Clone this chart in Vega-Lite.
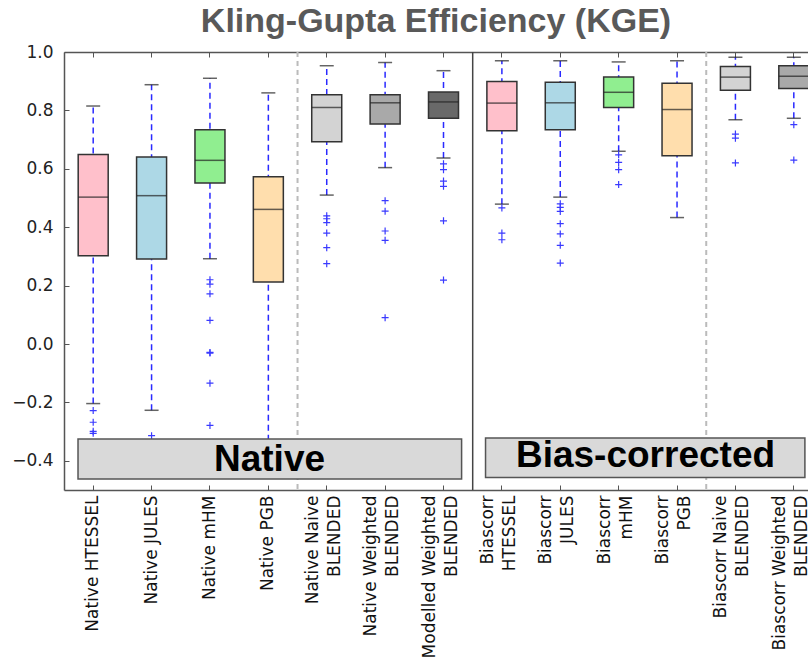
{
  "$schema": "https://vega.github.io/schema/vega-lite/v6.json",
  "autosize": {"type": "none"},
  "padding": {"left": 64, "top": 52, "right": 0, "bottom": 170},
  "width": 744,
  "height": 438,
  "title": {"text": "Kling-Gupta Efficiency (KGE)", "font": "Liberation Sans", "fontSize": 34, "fontWeight": "bold", "color": "#595959", "offset": 4, "anchor": "middle"},
  "config": {
    "view": {"stroke": null},
    "axis": {"domainColor": "#555555", "domainWidth": 1.5, "tickColor": "#555555", "grid": false, "labelFont": "DejaVu Sans", "labelColor": "#111111"}
  },
  "datasets": {
    "boxes": [
      {"model": "Native HTESSEL", "lower": -0.204, "q1": 0.302, "median": 0.503, "q3": 0.649, "upper": 0.815},
      {"model": "Native JULES", "lower": -0.227, "q1": 0.291, "median": 0.508, "q3": 0.640, "upper": 0.888},
      {"model": "Native mHM", "lower": 0.292, "q1": 0.551, "median": 0.629, "q3": 0.734, "upper": 0.910},
      {"model": "Native PGB", "lower": -0.40, "q1": 0.212, "median": 0.461, "q3": 0.573, "upper": 0.860},
      {"model": "Native Naive\nBLENDED", "lower": 0.510, "q1": 0.693, "median": 0.810, "q3": 0.854, "upper": 0.953},
      {"model": "Native Weighted\nBLENDED", "lower": 0.604, "q1": 0.753, "median": 0.826, "q3": 0.854, "upper": 0.964},
      {"model": "Modelled Weighted\nBLENDED", "lower": 0.637, "q1": 0.773, "median": 0.829, "q3": 0.863, "upper": 0.936},
      {"model": "Biascorr\nHTESSEL", "lower": 0.479, "q1": 0.730, "median": 0.825, "q3": 0.899, "upper": 0.970},
      {"model": "Biascorr\nJULES", "lower": 0.503, "q1": 0.734, "median": 0.826, "q3": 0.896, "upper": 0.970},
      {"model": "Biascorr\nmHM", "lower": 0.660, "q1": 0.810, "median": 0.862, "q3": 0.914, "upper": 0.966},
      {"model": "Biascorr\nPGB", "lower": 0.433, "q1": 0.645, "median": 0.803, "q3": 0.893, "upper": 0.970},
      {"model": "Biascorr Naive\nBLENDED", "lower": 0.768, "q1": 0.869, "median": 0.914, "q3": 0.950, "upper": 0.982},
      {"model": "Biascorr Weighted\nBLENDED", "lower": 0.773, "q1": 0.875, "median": 0.917, "q3": 0.953, "upper": 0.982}
    ],
    "outliers": [
      {"model": "Native HTESSEL", "kge": -0.228}, {"model": "Native HTESSEL", "kge": -0.268}, {"model": "Native HTESSEL", "kge": -0.299}, {"model": "Native HTESSEL", "kge": -0.306},
      {"model": "Native JULES", "kge": -0.314},
      {"model": "Native mHM", "kge": 0.220}, {"model": "Native mHM", "kge": 0.205}, {"model": "Native mHM", "kge": 0.172}, {"model": "Native mHM", "kge": 0.081}, {"model": "Native mHM", "kge": -0.029}, {"model": "Native mHM", "kge": -0.031}, {"model": "Native mHM", "kge": -0.134}, {"model": "Native mHM", "kge": -0.279},
      {"model": "Native Naive\nBLENDED", "kge": 0.439}, {"model": "Native Naive\nBLENDED", "kge": 0.429}, {"model": "Native Naive\nBLENDED", "kge": 0.416}, {"model": "Native Naive\nBLENDED", "kge": 0.380}, {"model": "Native Naive\nBLENDED", "kge": 0.330}, {"model": "Native Naive\nBLENDED", "kge": 0.275},
      {"model": "Native Weighted\nBLENDED", "kge": 0.491}, {"model": "Native Weighted\nBLENDED", "kge": 0.455}, {"model": "Native Weighted\nBLENDED", "kge": 0.387}, {"model": "Native Weighted\nBLENDED", "kge": 0.355}, {"model": "Native Weighted\nBLENDED", "kge": 0.090},
      {"model": "Modelled Weighted\nBLENDED", "kge": 0.617}, {"model": "Modelled Weighted\nBLENDED", "kge": 0.597}, {"model": "Modelled Weighted\nBLENDED", "kge": 0.558}, {"model": "Modelled Weighted\nBLENDED", "kge": 0.540}, {"model": "Modelled Weighted\nBLENDED", "kge": 0.422}, {"model": "Modelled Weighted\nBLENDED", "kge": 0.219},
      {"model": "Biascorr\nHTESSEL", "kge": 0.466}, {"model": "Biascorr\nHTESSEL", "kge": 0.380}, {"model": "Biascorr\nHTESSEL", "kge": 0.357},
      {"model": "Biascorr\nJULES", "kge": 0.480}, {"model": "Biascorr\nJULES", "kge": 0.468}, {"model": "Biascorr\nJULES", "kge": 0.454}, {"model": "Biascorr\nJULES", "kge": 0.412}, {"model": "Biascorr\nJULES", "kge": 0.377}, {"model": "Biascorr\nJULES", "kge": 0.338}, {"model": "Biascorr\nJULES", "kge": 0.277},
      {"model": "Biascorr\nmHM", "kge": 0.648}, {"model": "Biascorr\nmHM", "kge": 0.622}, {"model": "Biascorr\nmHM", "kge": 0.597}, {"model": "Biascorr\nmHM", "kge": 0.546},
      {"model": "Biascorr Naive\nBLENDED", "kge": 0.719}, {"model": "Biascorr Naive\nBLENDED", "kge": 0.705}, {"model": "Biascorr Naive\nBLENDED", "kge": 0.620},
      {"model": "Biascorr Weighted\nBLENDED", "kge": 0.751}, {"model": "Biascorr Weighted\nBLENDED", "kge": 0.630}
    ],
    "separators": [{"after": "Native PGB"}, {"after": "Biascorr\nPGB"}]
  },
  "resolve": {"axis": {"x": "independent"}},
  "layer": [
    {
      "data": {"name": "separators"},
      "mark": {"type": "rule", "color": "#bbbbbb", "strokeWidth": 2, "strokeDash": [5, 4]},
      "encoding": {
        "x": {"field": "after", "type": "nominal", "bandPosition": 1, "axis": null,
          "scale": {"type": "band", "paddingInner": 0, "paddingOuter": 0, "range": [0, 759],
            "domain": ["Native HTESSEL", "Native JULES", "Native mHM", "Native PGB", "Native Naive\nBLENDED", "Native Weighted\nBLENDED", "Modelled Weighted\nBLENDED", "Biascorr\nHTESSEL", "Biascorr\nJULES", "Biascorr\nmHM", "Biascorr\nPGB", "Biascorr Naive\nBLENDED", "Biascorr Weighted\nBLENDED"]}}
      }
    },
    {
      "data": {"values": [{"after": "Modelled Weighted\nBLENDED"}]},
      "mark": {"type": "rule", "color": "#444444", "strokeWidth": 1.5},
      "encoding": {
        "x": {"field": "after", "type": "nominal", "bandPosition": 1, "axis": null}
      }
    },
    {
      "data": {"name": "boxes"},
      "mark": {"type": "rule", "color": "#2a2aff", "strokeWidth": 1.5, "strokeDash": [6, 4]},
      "encoding": {
        "x": {"field": "model", "type": "nominal", "sort": null,
          "axis": {"orient": "bottom", "title": null, "labelAngle": -90, "labelAlign": "right", "labelBaseline": "middle", "labelFontSize": 17, "labelLineHeight": 22, "labelPadding": 10, "tickSize": -5, "labelExpr": "split(datum.label, '\\n')",
            "labelOffset": {"expr": "indexof(datum.value, '\\n') >= 0 ? -14 : 0"}}},
        "y": {"field": "lower", "type": "quantitative", "title": null,
          "scale": {"domain": [-0.5, 1.0], "nice": false, "zero": false},
          "axis": {"values": [-0.4, -0.2, 0, 0.2, 0.4, 0.6, 0.8, 1.0], "labelFontSize": 17, "labelColor": "#222222", "tickSize": -5, "labelPadding": 16, "labelExpr": "replace(format(datum.value, '.1f'), '-', '\u2212')"}},
        "y2": {"field": "upper"}
      }
    },
    {
      "data": {"name": "boxes"},
      "mark": {"type": "tick", "color": "#222222", "thickness": 1.5, "size": 14},
      "encoding": {
        "x": {"field": "model", "type": "nominal", "axis": {"orient": "top", "labels": false, "title": null, "tickSize": -5}},
        "y": {"field": "lower", "type": "quantitative", "title": null}
      }
    },
    {
      "data": {"name": "boxes"},
      "mark": {"type": "tick", "color": "#222222", "thickness": 1.5, "size": 14},
      "encoding": {
        "x": {"field": "model", "type": "nominal", "axis": null},
        "y": {"field": "upper", "type": "quantitative", "title": null}
      }
    },
    {
      "data": {"name": "boxes"},
      "mark": {"type": "bar", "size": 30, "stroke": "#333333", "strokeWidth": 1.5},
      "encoding": {
        "x": {"field": "model", "type": "nominal", "axis": null},
        "y": {"field": "q1", "type": "quantitative", "title": null},
        "y2": {"field": "q3"},
        "color": {"field": "model", "type": "nominal", "legend": null,
          "scale": {"domain": ["Native HTESSEL", "Native JULES", "Native mHM", "Native PGB", "Native Naive\nBLENDED", "Native Weighted\nBLENDED", "Modelled Weighted\nBLENDED", "Biascorr\nHTESSEL", "Biascorr\nJULES", "Biascorr\nmHM", "Biascorr\nPGB", "Biascorr Naive\nBLENDED", "Biascorr Weighted\nBLENDED"],
            "range": ["#ffc0cb", "#add8e6", "#90ee90", "#ffdead", "#d3d3d3", "#a9a9a9", "#696969", "#ffc0cb", "#add8e6", "#90ee90", "#ffdead", "#d3d3d3", "#a9a9a9"]}}
      }
    },
    {
      "data": {"name": "boxes"},
      "mark": {"type": "tick", "color": "#222222", "thickness": 1.5, "size": 30},
      "encoding": {
        "x": {"field": "model", "type": "nominal", "axis": null},
        "y": {"field": "median", "type": "quantitative", "title": null}
      }
    },
    {
      "data": {"name": "outliers"},
      "mark": {"type": "point", "shape": "M-1,0L1,0M0,-1L0,1", "filled": false, "stroke": "#3a3aff", "strokeWidth": 1.2, "size": 49, "opacity": 1},
      "encoding": {
        "x": {"field": "model", "type": "nominal", "axis": null},
        "y": {"field": "kge", "type": "quantitative", "title": null}
      }
    },
    {
      "data": {"values": [{"label": "Native"}]},
      "mark": {"type": "rect", "fill": "#d9d9d9", "stroke": "#555555", "strokeWidth": 1.5},
      "encoding": {
        "x": {"datum": "Native HTESSEL", "type": "nominal", "bandPosition": 0.24, "axis": null},
        "x2": {"datum": "Modelled Weighted\nBLENDED", "bandPosition": 0.81},
        "y": {"datum": -0.325, "type": "quantitative", "title": null},
        "y2": {"datum": -0.462}
      }
    },
    {
      "data": {"values": [{"label": "Bias-corrected"}]},
      "mark": {"type": "rect", "fill": "#d9d9d9", "stroke": "#555555", "strokeWidth": 1.5},
      "encoding": {
        "x": {"datum": "Biascorr\nHTESSEL", "type": "nominal", "bandPosition": 0.22, "axis": null},
        "x2": {"datum": "Biascorr Weighted\nBLENDED", "bandPosition": 0.69},
        "y": {"datum": -0.322, "type": "quantitative", "title": null},
        "y2": {"datum": -0.457}
      }
    },
    {
      "data": {"values": [{"label": "Native"}]},
      "mark": {"type": "text", "font": "Liberation Sans", "fontSize": 37, "fontWeight": "bold", "color": "#000000", "baseline": "alphabetic", "align": "center"},
      "encoding": {
        "x": {"datum": "Native PGB", "type": "nominal", "bandPosition": 0.52, "axis": null},
        "y": {"datum": -0.436, "type": "quantitative", "title": null},
        "text": {"field": "label"}
      }
    },
    {
      "data": {"values": [{"label": "Bias-corrected"}]},
      "mark": {"type": "text", "font": "Liberation Sans", "fontSize": 37, "fontWeight": "bold", "color": "#000000", "baseline": "alphabetic", "align": "center"},
      "encoding": {
        "x": {"datum": "Biascorr\nmHM", "type": "nominal", "bandPosition": 0.96, "axis": null},
        "y": {"datum": -0.421, "type": "quantitative", "title": null},
        "text": {"field": "label"}
      }
    }
  ]
}
